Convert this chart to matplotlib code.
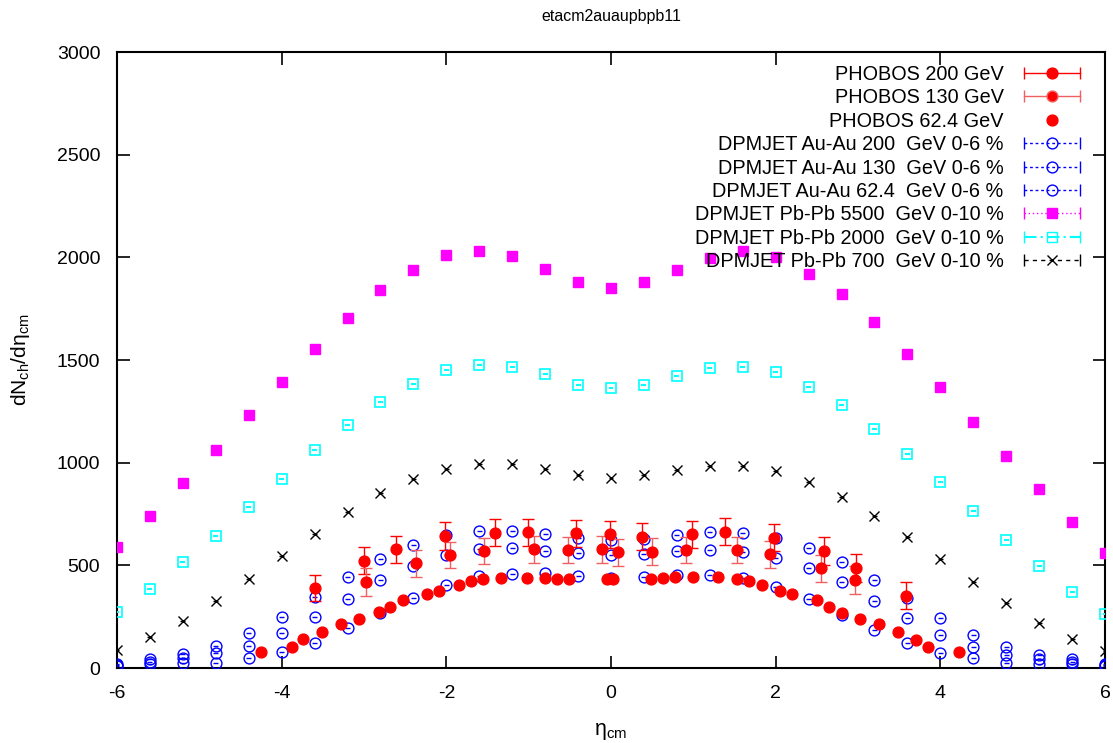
import numpy as np
import matplotlib
matplotlib.use("Agg")
import matplotlib.pyplot as plt
from matplotlib.lines import Line2D
from matplotlib.legend_handler import HandlerLine2D

plt.rcParams['font.family'] = ['Liberation Sans', 'DejaVu Sans']
plt.rcParams['mathtext.fontset'] = 'custom'
plt.rcParams['mathtext.rm'] = 'Liberation Sans'
plt.rcParams['axes.unicode_minus'] = False

# DPMJET eta grid
eta_dpm = [-6.0, -5.6, -5.2, -4.8, -4.4, -4.0, -3.6, -3.2, -2.8, -2.4, -2.0,
           -1.6, -1.2, -0.8, -0.4, 0.0, 0.4, 0.8, 1.2, 1.6, 2.0, 2.4, 2.8,
           3.2, 3.6, 4.0, 4.4, 4.8, 5.2, 5.6, 6.0]

# DPMJET Au-Au 0-6 %
auau_200 = [20, 42, 68, 107, 172, 250, 347, 442, 529, 599, 648, 667, 669, 653,
            632, 623, 630, 648, 662, 656, 632, 586, 518, 429, 339, 242, 161,
            101, 63, 42, 20]
auau_130 = [15, 31, 47, 71, 107, 169, 250, 336, 429, 498, 550, 580, 586, 571,
            559, 550, 555, 570, 575, 567, 537, 485, 417, 328, 242, 161, 101,
            63, 42, 31, 15]
auau_62 = [10, 20, 26, 26, 47, 76, 123, 193, 266, 342, 404, 448, 458, 461,
           448, 440, 444, 453, 453, 437, 396, 336, 258, 185, 120, 72, 47, 26,
           20, 20, 10]

# DPMJET Pb-Pb 0-10 %
pbpb_5500 = [590, 740, 900, 1060, 1230, 1395, 1555, 1705, 1840, 1940, 2010,
             2030, 2005, 1945, 1880, 1850, 1880, 1940, 1995, 2030, 2000, 1920,
             1820, 1685, 1530, 1370, 1200, 1035, 870, 710, 560]
pbpb_2000 = [275, 385, 515, 645, 785, 920, 1060, 1185, 1295, 1385, 1450, 1475,
             1465, 1430, 1380, 1365, 1380, 1420, 1460, 1465, 1440, 1370, 1280,
             1165, 1040, 905, 765, 625, 495, 370, 265]
pbpb_700 = [90, 150, 230, 325, 435, 545, 655, 760, 850, 920, 970, 995, 995,
            970, 940, 925, 940, 965, 985, 985, 960, 905, 835, 740, 640, 530,
            420, 315, 220, 140, 85]

# PHOBOS 200 GeV
eta_ph200 = [-3.6, -3.0, -2.61, -2.01, -1.41, -1.01, -0.42, -0.01, 0.38,
             0.99, 1.38, 1.98, 2.59, 2.98, 3.58]
ph200 = [391, 523, 578, 644, 659, 661, 656, 651, 640, 651, 664, 635, 570,
         486, 352]
ph200_err = [64, 67, 67, 68, 65, 65, 65, 65, 65, 65, 65, 67, 67, 67, 65]

# PHOBOS 130 GeV
eta_ph130 = [-2.98, -2.37, -1.96, -1.54, -0.94, -0.52, -0.11, 0.09, 0.50,
             0.91, 1.53, 1.93, 2.55, 2.96]
ph130 = [420, 510, 550, 570, 578, 575, 578, 563, 567, 575, 575, 554, 486, 429]
ph130_err = [67, 65, 65, 65, 67, 65, 65, 65, 65, 65, 65, 65, 65, 67]

# PHOBOS 62.4 GeV
eta_ph62 = [-4.25, -3.88, -3.74, -3.51, -3.28, -3.06, -2.82, -2.68, -2.53,
            -2.23, -2.09, -1.85, -1.70, -1.55, -1.33, -1.02, -0.80, -0.65,
            -0.51, -0.05, 0.02, 0.48, 0.63, 0.78, 1.00, 1.30, 1.53, 1.68,
            1.83, 2.05, 2.20, 2.50, 2.65, 2.80, 3.03, 3.26, 3.48, 3.70, 3.85,
            4.23]
ph62 = [76, 104, 140, 174, 213, 237, 271, 299, 333, 360, 377, 404, 425, 433,
        440, 440, 440, 435, 432, 432, 432, 432, 437, 445, 441, 441, 433, 425,
        404, 375, 360, 331, 299, 269, 237, 213, 174, 136, 104, 76]

fig = plt.figure(figsize=(11.13, 7.43), dpi=100)
ax = fig.add_axes([0.1051, 0.1009, 0.8877, 0.8291])

ms = 7.8
# DPMJET Au-Au: open blue circles with a tiny x error dash
for yv in [auau_200, auau_130, auau_62]:
    ax.errorbar(eta_dpm, yv, xerr=0.03, fmt='o', ms=ms, mfc='none', mec='blue',
                mew=1.0, ecolor='blue', elinewidth=1.0, capsize=0, zorder=3)

ax.plot(eta_dpm, pbpb_5500, 's', ms=7.5, color='magenta', zorder=3)
ax.errorbar(eta_dpm, pbpb_2000, xerr=0.03, fmt='s', ms=7.5, mfc='none',
            mec='cyan', mew=1.2, ecolor='cyan', elinewidth=1.5, capsize=0, zorder=3)
ax.errorbar(eta_dpm, pbpb_700, xerr=0.03, fmt='x', ms=7.5, color='black',
            mew=1.0, ecolor='black', elinewidth=1.0, capsize=0, zorder=3)

ax.errorbar(eta_ph200, ph200, yerr=ph200_err, fmt='o', ms=ms, color='red',
            ecolor='red', elinewidth=1.0, capsize=4, capthick=1.0, zorder=4)
ax.errorbar(eta_ph130, ph130, yerr=ph130_err, fmt='o', ms=ms, color='red',
            ecolor='#f06060', elinewidth=1.0, capsize=4, capthick=1.0, zorder=4)
ax.plot(eta_ph62, ph62, 'o', ms=ms, color='red', zorder=4)

ax.set_xlim(-6, 6)
ax.set_ylim(0, 3000)
ax.set_xticks([-6, -4, -2, 0, 2, 4, 6])
ax.set_yticks([0, 500, 1000, 1500, 2000, 2500, 3000])
ax.tick_params(direction='in', length=9, width=1.2, top=True, right=True,
               labelsize=14, pad=12)
for s in ax.spines.values():
    s.set_linewidth(1.5)

ax.set_title('etacm2auaupbpb11', fontsize=11.5, pad=22)
ax.set_xlabel('η$_{\\mathrm{cm}}$', fontsize=15.5, labelpad=14)
ax.set_ylabel('dN$_{\\mathrm{ch}}$/dη$_{\\mathrm{cm}}$', fontsize=15, labelpad=18)

# legend samples in the gnuplot style: line, end caps, marker in the middle
def sample(color, ls, marker, mfc, lw=1.0):
    main = Line2D([], [], color=color, ls=ls, lw=lw, marker=marker, ms=ms,
                  mfc=mfc, mec=color)
    caps = Line2D([], [], color=color, ls='none', marker='|', ms=8, mew=1.0)
    return (main, caps)

entries = [
    (sample('red', '-', 'o', 'red'), 'PHOBOS 200 GeV'),
    (sample('#f06060', '-', 'o', 'red'), 'PHOBOS 130 GeV'),
    (Line2D([], [], color='red', ls='none', marker='o', ms=ms), 'PHOBOS 62.4 GeV'),
    (sample('blue', (0, (2, 2)), 'o', 'none'), 'DPMJET Au-Au 200  GeV 0-6 %'),
    (sample('blue', (0, (2, 2)), 'o', 'none'), 'DPMJET Au-Au 130  GeV 0-6 %'),
    (sample('blue', (0, (2, 2)), 'o', 'none'), 'DPMJET Au-Au 62.4  GeV 0-6 %'),
    (sample('magenta', (0, (1, 2)), 's', 'magenta'), 'DPMJET Pb-Pb 5500  GeV 0-10 %'),
    (sample('cyan', (0, (6, 2, 1, 2)), 's', 'none', 1.5), 'DPMJET Pb-Pb 2000  GeV 0-10 %'),
    (sample('black', (0, (3, 3)), 'x', 'none'), 'DPMJET Pb-Pb 700  GeV 0-10 %'),
]
hmap = {}
for h, _ in entries:
    if isinstance(h, tuple):
        hmap[h[1]] = HandlerLine2D(numpoints=2, marker_pad=0)
leg = ax.legend([e[0] for e in entries], [e[1] for e in entries],
                handler_map=hmap, loc='upper right',
                bbox_to_anchor=(0.9899, 1.003), frameon=False,
                markerfirst=False, fontsize=14.3, handlelength=2.85,
                handletextpad=1.0, labelspacing=0.22, borderaxespad=0.35)

fig.savefig('out.png', dpi=100)
